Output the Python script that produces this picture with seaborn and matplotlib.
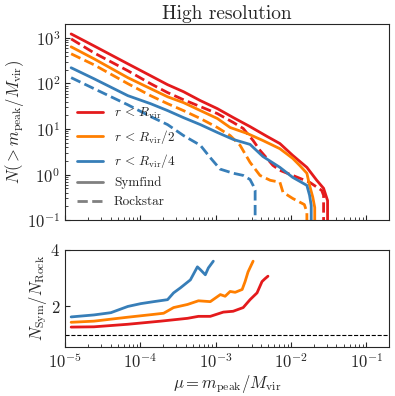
import pandas as pd
import matplotlib
matplotlib.use('Agg')
import matplotlib.pyplot as plt
from matplotlib.lines import Line2D
import seaborn as sns

# ---- cumulative mass functions N(>mu) ----
# r < Rvir
mu_full_sym = [1.20e-5, 2.41e-5, 6.79e-5, 1.36e-4, 2.29e-4, 3.72e-4, 6.24e-4, 1.05e-3, 1.71e-3,
               2.85e-3, 4.78e-3, 7.10e-3, 1.05e-2, 1.62e-2, 2.19e-2, 2.70e-2, 3.05e-2, 3.05e-2]
n_full_sym = [1220, 668, 270, 148, 94, 66, 42, 28, 17.8,
              11.3, 6.9, 4.8, 2.64, 1.44, 0.75, 0.50, 0.27, 0.001]
mu_full_rock = [1.20e-5, 2.41e-5, 6.79e-5, 1.36e-4, 2.29e-4, 3.72e-4, 6.24e-4, 1.05e-3, 1.71e-3,
                2.31e-3, 3.13e-3, 3.86e-3, 4.78e-3, 5.74e-3, 7.10e-3, 1.05e-2, 1.76e-2, 2.55e-2,
                2.70e-2, 2.70e-2]
n_full_rock = [950, 470, 190, 99, 63, 44, 31, 21.8, 13.9,
               10.3, 5.6, 3.4, 2.27, 1.59, 1.24, 0.96, 0.68, 0.45,
               0.35, 0.001]

# r < Rvir/2
mu_half_sym = [1.20e-5, 2.41e-5, 6.79e-5, 1.36e-4, 2.29e-4, 3.72e-4, 6.24e-4, 1.05e-3, 1.55e-3,
               2.61e-3, 4.22e-3, 7.10e-3, 1.05e-2, 1.30e-2, 1.62e-2, 1.76e-2, 1.94e-2, 2.06e-2, 2.06e-2]
n_half_sym = [636, 348, 134, 77, 51, 38, 25.4, 17.0, 10.8,
              8.0, 5.6, 3.7, 2.27, 1.59, 1.07, 0.58, 0.32, 0.19, 0.001]
mu_half_rock = [1.20e-5, 2.41e-5, 6.79e-5, 1.36e-4, 2.29e-4, 3.72e-4, 6.24e-4, 1.05e-3, 1.55e-3,
                2.10e-3, 2.85e-3, 3.86e-3, 5.28e-3, 7.10e-3, 7.80e-3, 1.05e-2, 1.50e-2, 1.62e-2, 1.62e-2]
n_half_rock = [447, 257, 99, 54, 36, 25.4, 17.0, 10.8, 7.2,
               4.4, 1.86, 0.96, 0.75, 0.68, 0.41, 0.30, 0.22, 0.15, 0.001]

# r < Rvir/4
mu_quar_sym = [1.20e-5, 2.41e-5, 6.79e-5, 1.36e-4, 2.29e-4, 3.72e-4, 6.24e-4, 1.05e-3, 1.71e-3,
               2.85e-3, 4.22e-3, 7.10e-3, 1.05e-2, 1.62e-2, 1.76e-2, 1.85e-2, 1.85e-2]
n_quar_sym = [221, 127, 54, 36, 25.4, 17.8, 12.5, 8.4, 5.9,
              4.6, 2.5, 1.44, 0.87, 0.58, 0.35, 0.21, 0.001]
mu_quar_rock = [1.20e-5, 2.41e-5, 6.79e-5, 1.36e-4, 2.29e-4, 3.72e-4, 6.24e-4, 8.40e-4, 1.14e-3,
                1.71e-3, 2.31e-3, 2.85e-3, 3.13e-3, 3.33e-3, 3.33e-3]
n_quar_rock = [134, 77, 34, 18.8, 12.5, 7.2, 4.4, 2.38, 1.32,
               1.07, 0.96, 0.78, 0.58, 0.45, 0.001]

# ---- ratio N_Sym / N_Rock ----
mu_full_ratio = [1.20e-5, 2.41e-5, 6.79e-5, 1.85e-4, 4.21e-4, 5.88e-4, 8.45e-4, 1.26e-3, 1.70e-3,
                 2.31e-3, 2.85e-3, 3.53e-3, 4.11e-3, 4.50e-3, 4.93e-3]
r_full = [1.27, 1.28, 1.37, 1.48, 1.58, 1.65, 1.65, 1.80, 1.83,
          1.96, 2.24, 2.48, 2.88, 2.98, 3.07]
mu_half_ratio = [1.20e-5, 2.41e-5, 6.79e-5, 1.50e-4, 2.03e-4, 2.75e-4, 4.21e-4, 5.88e-4, 8.45e-4,
                 1.15e-3, 1.33e-3, 1.55e-3, 1.81e-3, 2.24e-3, 2.45e-3, 2.68e-3, 3.13e-3]
r_half = [1.44, 1.48, 1.62, 1.72, 1.76, 1.96, 2.07, 2.20, 2.17,
          2.42, 2.36, 2.53, 2.50, 2.60, 2.88, 3.22, 3.60]
mu_quar_ratio = [1.20e-5, 2.41e-5, 4.05e-5, 6.79e-5, 1.01e-4, 1.50e-4, 2.29e-4, 2.75e-4, 3.40e-4,
                 4.60e-4, 5.70e-4, 6.24e-4, 7.26e-4, 7.96e-4, 9.27e-4]
r_quar = [1.63, 1.70, 1.78, 2.00, 2.10, 2.17, 2.24, 2.48, 2.66,
          2.94, 3.40, 3.30, 3.12, 3.36, 3.60]

regions = [r'$r\,<\,R_{\rm vir}$', r'$r\,<\,R_{\rm vir}/2$', r'$r\,<\,R_{\rm vir}/4$']
colors = ['#e41a1c', '#ff7f00', '#377eb8']
palette = dict(zip(regions, colors))

cum = [(regions[0], 'Symfind', mu_full_sym, n_full_sym),
       (regions[0], 'Rockstar', mu_full_rock, n_full_rock),
       (regions[1], 'Symfind', mu_half_sym, n_half_sym),
       (regions[1], 'Rockstar', mu_half_rock, n_half_rock),
       (regions[2], 'Symfind', mu_quar_sym, n_quar_sym),
       (regions[2], 'Rockstar', mu_quar_rock, n_quar_rock)]
df = pd.concat([pd.DataFrame({'mu': m, 'N': n, 'region': reg, 'finder': f})
                for reg, f, m, n in cum], ignore_index=True)

rat = [(regions[0], mu_full_ratio, r_full),
       (regions[1], mu_half_ratio, r_half),
       (regions[2], mu_quar_ratio, r_quar)]
rdf = pd.concat([pd.DataFrame({'mu': m, 'ratio': r, 'region': reg})
                 for reg, m, r in rat], ignore_index=True)

sns.set_style('ticks')
plt.rcParams['font.family'] = ['cmr10', 'DejaVu Serif']
plt.rcParams['mathtext.fontset'] = 'cm'
plt.rcParams['axes.unicode_minus'] = False
plt.rcParams['axes.formatter.use_mathtext'] = True
plt.rcParams['xtick.direction'] = 'in'
plt.rcParams['ytick.direction'] = 'in'

fig = plt.figure(figsize=(3.95, 3.96), dpi=100)
ax1 = fig.add_axes([0.165, 0.444, 0.82, 0.495])
ax2 = fig.add_axes([0.165, 0.124, 0.82, 0.245])

sns.lineplot(data=df, x='mu', y='N', hue='region', style='finder', palette=palette,
             dashes={'Symfind': '', 'Rockstar': (3.7, 1.6)}, estimator=None, sort=False,
             lw=2, legend=False, ax=ax1)
ax1.set(xscale='log', yscale='log', xlim=(1e-5, 0.2), ylim=(0.1, 2000))
ax1.set_xlabel('')
ax1.set_ylabel(r'$N(>m_{\rm peak}/M_{\rm vir})$', fontsize=12, labelpad=1)
ax1.set_title('High resolution', fontsize=14, pad=4)
ax1.tick_params(labelbottom=False, labelsize=12)

handles = [Line2D([], [], color=c, lw=2) for c in colors]
handles += [Line2D([], [], color='gray', lw=2),
            Line2D([], [], color='gray', lw=2, dashes=(3.7, 1.6))]
ax1.legend(handles, regions + ['Symfind', 'Rockstar'], loc='lower left',
           frameon=False, fontsize=9.5, handlelength=2.0)

sns.lineplot(data=rdf, x='mu', y='ratio', hue='region', palette=palette,
             estimator=None, sort=False, lw=2, legend=False, ax=ax2)
ax2.axhline(1, color='k', ls='--', lw=0.8)
ax2.set(xscale='log', xlim=(1e-5, 0.2), ylim=(0.57, 4), yticks=[2, 4])
ax2.set_xlabel(r'$\mu = m_{\rm peak}/M_{\rm vir}$', fontsize=12, labelpad=1)
ax2.set_ylabel(r'$N_{\rm Sym}/N_{\rm Rock}$', fontsize=12, labelpad=1)
ax2.tick_params(labelsize=12)

fig.savefig('out.png', dpi=100)
